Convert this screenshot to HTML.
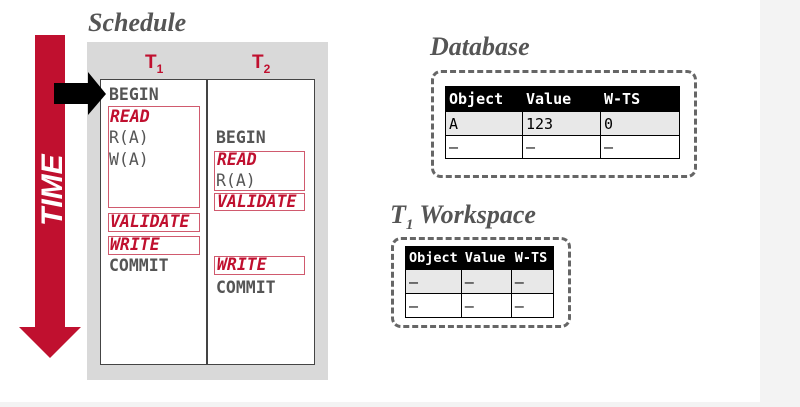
<!DOCTYPE html>
<html><head><meta charset="utf-8"><style>
*{margin:0;padding:0;box-sizing:border-box}
body{width:800px;height:407px;background:#fff;position:relative;overflow:hidden;font-family:"DejaVu Sans Mono","Liberation Mono",monospace}
.a{position:absolute}
.t{position:absolute;font-family:"Liberation Serif",serif;font-weight:bold;font-style:italic;color:#555;font-size:26px}
.g{color:#555;font-size:16.5px;font-weight:bold}
.r{color:#555;font-size:16.5px}
.rd{color:#c0102f;font-size:16.5px;font-weight:bold;font-style:italic}
.box{position:absolute;border:1.5px solid #d05a6e}
table{position:absolute;border-collapse:collapse;font-family:"DejaVu Sans Mono",monospace}
td{border:1.5px solid #000;padding:0 3px;font-size:15px;color:#000;text-align:left}
tr.h td{background:#000;color:#fff;font-weight:bold;border-color:#000}
tr.s td{background:#e8e8e8}
</style></head><body>
<div class="a" style="left:760px;top:0;width:40px;height:407px;background:#f3f3f3"></div>
<div class="a" style="left:0;top:402px;width:800px;height:5px;background:#f3f3f3"></div>

<div class="t" style="left:88px;top:8px">Schedule</div>
<div class="a" style="left:87px;top:42px;width:241px;height:338px;background:#d9d9d9"></div>
<div class="a" style="left:100px;top:79px;width:215px;height:286px;background:#fff;border:1.5px solid #444"></div>
<div class="a" style="left:206px;top:79px;width:1.5px;height:286px;background:#444"></div>
<div class="a" style="left:145px;top:52px;color:#c0102f;font-family:'Liberation Sans',sans-serif;font-weight:bold;font-size:19px">T<sub style="font-size:12px">1</sub></div>
<div class="a" style="left:252px;top:52px;color:#c0102f;font-family:'Liberation Sans',sans-serif;font-weight:bold;font-size:19px">T<sub style="font-size:12px">2</sub></div>

<svg class="a" style="left:0;top:0" width="120" height="370">
<polygon points="35,35 65,35 65,327 81,327 50,358 19,327 35,327" fill="#c0102f"/>
<polygon points="54,83 88,83 88,72 106,94 88,115 88,104 54,104" fill="#000"/>
<text x="0" y="0" transform="translate(62,226) rotate(-90)" fill="#fff" font-family="Liberation Sans,sans-serif" font-weight="bold" font-style="italic" font-size="30">TIME</text>
</svg>

<div class="a g" style="left:109px;top:85px">BEGIN</div>
<div class="box" style="left:108px;top:106px;width:92px;height:102px"></div>
<div class="a rd" style="left:110px;top:107px">READ</div>
<div class="a r" style="left:109px;top:128px">R(A)</div>
<div class="a r" style="left:109px;top:150px">W(A)</div>
<div class="box" style="left:108px;top:213px;width:92px;height:19px"></div>
<div class="a rd" style="left:110px;top:212px">VALIDATE</div>
<div class="box" style="left:108px;top:236px;width:92px;height:19px"></div>
<div class="a rd" style="left:110px;top:235px">WRITE</div>
<div class="a g" style="left:109px;top:256px">COMMIT</div>

<div class="a g" style="left:216px;top:128px">BEGIN</div>
<div class="box" style="left:214px;top:151px;width:91px;height:40px"></div>
<div class="a rd" style="left:217px;top:150px">READ</div>
<div class="a r" style="left:216px;top:171px">R(A)</div>
<div class="box" style="left:214px;top:193px;width:91px;height:18px"></div>
<div class="a rd" style="left:217px;top:192px">VALIDATE</div>
<div class="box" style="left:214px;top:256px;width:91px;height:19px"></div>
<div class="a rd" style="left:217px;top:255px">WRITE</div>
<div class="a g" style="left:216px;top:278px">COMMIT</div>

<div class="t" style="left:430px;top:32px">Database</div>
<div class="a" style="left:431px;top:70px;width:266px;height:108px;border:3.5px dashed #666;border-radius:10px"></div>
<table style="left:445px;top:86px;width:235px">
<tr class="h" style="height:25px"><td style="width:77px">Object</td><td style="width:78px">Value</td><td>W-TS</td></tr>
<tr class="s" style="height:24px"><td>A</td><td>123</td><td>0</td></tr>
<tr style="height:23px"><td>–</td><td>–</td><td>–</td></tr>
</table>

<div class="t" style="left:390px;top:200px">T<sub style="font-size:15px">1</sub> Workspace</div>
<div class="a" style="left:391px;top:237px;width:180px;height:91px;border:3.5px dashed #666;border-radius:10px"></div>
<table style="left:405px;top:246px;width:149px">
<tr class="h" style="height:23px"><td style="width:52px;font-size:13.5px">Object</td><td style="width:50px;font-size:13.5px">Value</td><td style="font-size:13.5px">W-TS</td></tr>
<tr class="s" style="height:24px"><td>–</td><td>–</td><td>–</td></tr>
<tr style="height:24px"><td>–</td><td>–</td><td>–</td></tr>
</table>
</body></html>
